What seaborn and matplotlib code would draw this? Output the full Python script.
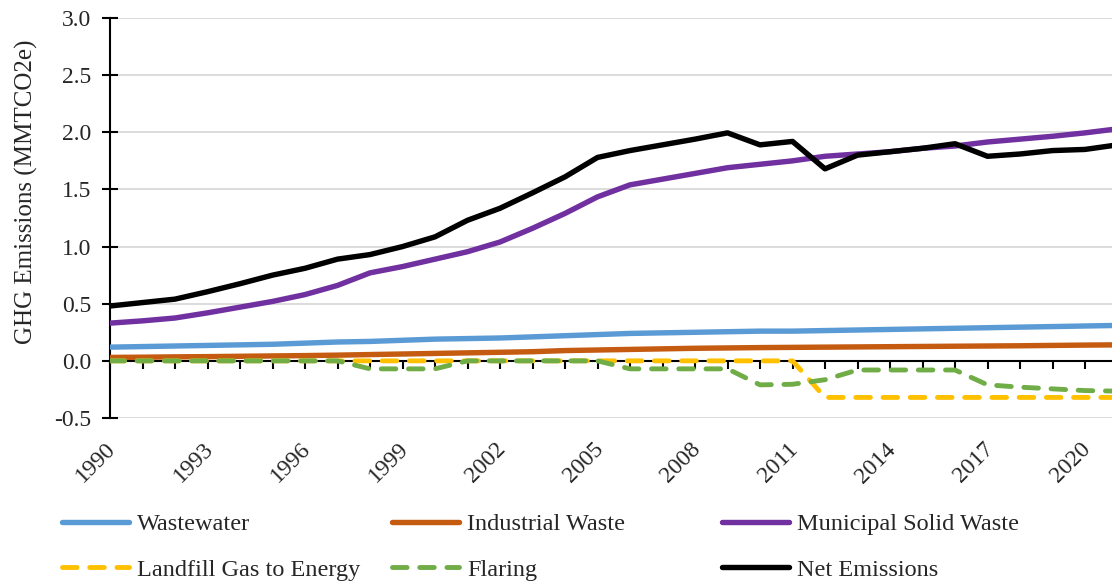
import matplotlib
matplotlib.use("Agg")
import matplotlib.pyplot as plt
from matplotlib.transforms import ScaledTranslation
import numpy as np
import seaborn as sns

# Annual GHG emissions from the waste sector (MMTCO2e)
years = list(range(1990, 2022))

wastewater = [0.120, 0.125, 0.130, 0.135, 0.140, 0.145, 0.155, 0.165, 0.170, 0.180,
              0.190, 0.195, 0.200, 0.210, 0.220, 0.230, 0.240, 0.245, 0.250, 0.255,
              0.260, 0.260, 0.265, 0.270, 0.275, 0.280, 0.285, 0.290, 0.295, 0.300,
              0.305, 0.310]
industrial_waste = [0.030, 0.032, 0.035, 0.037, 0.040, 0.043, 0.046, 0.050, 0.055, 0.060,
                    0.065, 0.070, 0.075, 0.080, 0.090, 0.095, 0.100, 0.105, 0.110, 0.113,
                    0.116, 0.118, 0.120, 0.122, 0.124, 0.126, 0.128, 0.130, 0.132, 0.135,
                    0.138, 0.140]
municipal_solid_waste = [0.33, 0.35, 0.375, 0.42, 0.47, 0.52, 0.58, 0.66, 0.77, 0.825,
                         0.89, 0.955, 1.04, 1.16, 1.29, 1.435, 1.54, 1.59, 1.64, 1.69,
                         1.72, 1.75, 1.79, 1.81, 1.83, 1.86, 1.88, 1.915, 1.94, 1.965,
                         1.995, 2.03]
landfill_gas_to_energy = [0.0] * 22 + [-0.32] * 10
flaring = [0.0, 0.0, 0.0, 0.0, 0.0, 0.0, 0.0, 0.0, -0.07, -0.07,
           -0.07, 0.0, 0.0, 0.0, 0.0, 0.0, -0.07, -0.07, -0.07, -0.07,
           -0.21, -0.205, -0.165, -0.08, -0.08, -0.08, -0.08, -0.21, -0.23, -0.245,
           -0.26, -0.265]
net_emissions = [0.48, 0.51, 0.54, 0.605, 0.675, 0.75, 0.81, 0.89, 0.93, 1.0,
                 1.085, 1.23, 1.335, 1.47, 1.61, 1.78, 1.84, 1.89, 1.94, 1.995,
                 1.89, 1.92, 1.68, 1.80, 1.83, 1.86, 1.90, 1.79, 1.81, 1.84,
                 1.85, 1.89]

series = [
    ("Wastewater", wastewater, "#5B9BD5", False),
    ("Industrial Waste", industrial_waste, "#C55A11", False),
    ("Municipal Solid Waste", municipal_solid_waste, "#7030A0", False),
    ("Landfill Gas to Energy", landfill_gas_to_energy, "#FFC000", True),
    ("Flaring", flaring, "#70AD47", True),
    ("Net Emissions", net_emissions, "#000000", False),
]

sns.set_theme(style="white")
plt.rcParams["font.family"] = ["Liberation Serif", "DejaVu Serif"]
plt.rcParams["axes.unicode_minus"] = False

W, H = 1112, 585
fig = plt.figure(figsize=(W / 100, H / 100), dpi=100)
ax = fig.add_axes([110 / W, 1 - 418 / H, 1 - 110 / W, 400 / H])

ymin, ymax = -0.5, 3.0
handles = {}
for name, values, color, dashed in series:
    sns.lineplot(x=years, y=values, ax=ax, color=color, linewidth=3.9,
                 legend=False, zorder=3)
    line = ax.lines[-1]
    line.set_label(name)
    line.set_solid_capstyle("round")
    if dashed:
        line.set_linewidth(3.5)
        line.set_linestyle((0, (3.0, 2.6)))
        line.set_dash_capstyle("round")
    handles[name] = line

ax.set_xlim(1990, 2020.83)
ax.set_ylim(ymin, ymax)

# y axis
yticks = np.arange(-0.5, 3.01, 0.5)
ax.set_yticks(yticks)
ax.set_yticklabels([f"{v:.1f}" for v in yticks])
ax.yaxis.grid(True, color="#d9d9d9", linewidth=1.3)
ax.xaxis.grid(False)
ax.set_axisbelow(True)
for side in ("top", "right", "bottom"):
    ax.spines[side].set_visible(False)
ax.spines["left"].set_color("black")
ax.spines["left"].set_linewidth(1.5)
ax.tick_params(axis="y", direction="inout", length=11, width=1.5, color="black",
               labelsize=17, pad=8, left=True)
ax.set_ylabel("GHG Emissions (MMTCO2e)", fontsize=18)
ax.yaxis.set_label_coords(-0.072, 0.565)

# x tick labels sit below the plot area
ax.set_xticks(years[::3])
ax.set_xticklabels([str(y) for y in years[::3]], rotation=45, ha="right",
                   va="top", rotation_mode="anchor")
ax.tick_params(axis="x", length=0, labelsize=17, pad=15, bottom=True)
shift = ScaledTranslation(-5 / 100, 0, fig.dpi_scale_trans)
for lbl in ax.get_xticklabels():
    lbl.set_transform(lbl.get_transform() + shift)

# category axis line drawn at zero with a tick for every year
zero_axis = ax.secondary_xaxis((0 - ymin) / (ymax - ymin))
zero_axis.set_xticks(years)
zero_axis.tick_params(direction="out", length=6, width=1.5, color="black",
                      labelbottom=False)
zero_axis.spines["bottom"].set_color("black")
zero_axis.spines["bottom"].set_linewidth(1.5)
zero_axis.set_zorder(1)

# legend: three columns placed under the plot
columns = [["Wastewater", "Landfill Gas to Energy"],
           ["Industrial Waste", "Flaring"],
           ["Municipal Solid Waste", "Net Emissions"]]
col_left = [62, 392, 722]
for names, xl in zip(columns, col_left):
    fig.legend([handles[n] for n in names], names, loc="upper left",
               bbox_to_anchor=(xl / W, 1 - 513 / H), frameon=False,
               fontsize=17.5, borderpad=0, borderaxespad=0,
               handlelength=2.75, handletextpad=0.35, labelspacing=0.98)

fig.savefig("out.png", dpi=100)
